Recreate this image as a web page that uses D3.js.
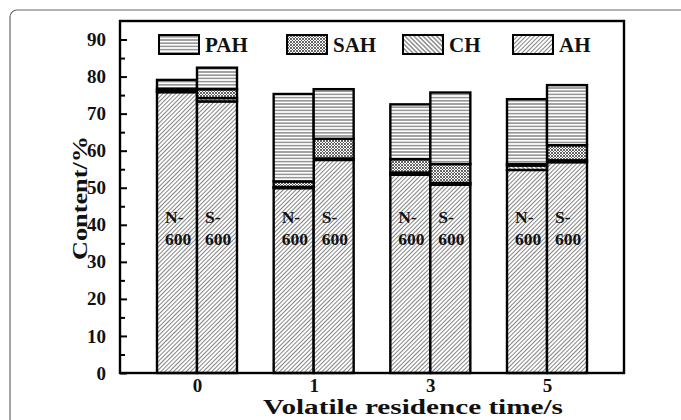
<!DOCTYPE html>
<html>
<head>
<meta charset="utf-8">
<script src="https://cdn.jsdelivr.net/npm/d3@7"></script>
<style>
  html, body { margin: 0; padding: 0; background: #fff; }
  svg { display: block; }
  text { font-family: "Liberation Serif", "Times New Roman", serif; font-weight: bold; fill: #111; }
</style>
</head>
<body>
<svg id="chart" width="681" height="420"></svg>
<script>
// Residence time groups and the two samples per group
const times = ["0", "1", "3", "5"];
const samples = ["N", "S"];
const sampleLabels = { N: "N-", S: "S-" };
const temperature = "600";

// Component contents (%) per bar, ordered time 0,1,3,5 for each sample
const AH_N  = [75.8, 49.9, 53.5, 54.8];
const CH_N  = [0.3, 0.3, 0.6, 1.2];
const SAH_N = [0.6, 1.5, 3.6, 0.4];
const PAH_N = [2.4, 23.6, 14.8, 17.5];

const AH_S  = [73.3, 57.5, 50.8, 56.9];
const CH_S  = [0.9, 0.4, 0.5, 0.5];
const SAH_S = [2.4, 5.3, 5.1, 4.1];
const PAH_S = [5.8, 13.4, 19.3, 16.2];

const components = ["AH", "CH", "SAH", "PAH"];       // stacking order, bottom to top
const legendOrder = ["PAH", "SAH", "CH", "AH"];
const yTicks = [0, 10, 20, 30, 40, 50, 60, 70, 80, 90];
const yMinorTicks = [5, 15, 25, 35, 45, 55, 65, 75, 85];

const seriesBySample = {
  N: { AH: AH_N, CH: CH_N, SAH: SAH_N, PAH: PAH_N },
  S: { AH: AH_S, CH: CH_S, SAH: SAH_S, PAH: PAH_S }
};

const svg = d3.select("#chart");
const plot = { left: 120, right: 624, top: 21, bottom: 373 };
const barW = 40;

// Figure frame with a rounded corner
svg.append("rect")
  .attr("x", 10).attr("y", 10).attr("width", 720).attr("height", 460)
  .attr("rx", 7).attr("fill", "none").attr("stroke", "#666").attr("stroke-width", 1.2);

// Hatch patterns: line hatches are a horizontal rule rotated per component
const defs = svg.append("defs");
function lineHatch(id, spacing, angle, color, width) {
  const p = defs.append("pattern").attr("id", id)
    .attr("patternUnits", "userSpaceOnUse").attr("width", spacing).attr("height", spacing)
    .attr("patternTransform", `rotate(${angle})`);
  p.append("rect").attr("width", spacing).attr("height", spacing).attr("fill", "#fff");
  p.append("line").attr("x1", 0).attr("x2", spacing).attr("y1", spacing / 2).attr("y2", spacing / 2)
    .attr("stroke", color).attr("stroke-width", width);
}
lineHatch("pat-PAH", 3.2, 0, "#555", 1);
lineHatch("pat-CH", 3.2, 45, "#444", 0.9);
lineHatch("pat-AH", 3.0, -45, "#666", 0.8);
{
  const s = 3;
  const p = defs.append("pattern").attr("id", "pat-SAH")
    .attr("patternUnits", "userSpaceOnUse").attr("width", s).attr("height", s);
  p.append("rect").attr("width", s).attr("height", s).attr("fill", "#fff");
  p.append("path").attr("d", `M0,0L${s},${s}M${s},0L0,${s}`)
    .attr("stroke", "#555").attr("stroke-width", 0.9);
}

// Scales
const x = d3.scalePoint().domain(times).range([plot.left, plot.right]).padding(0.66);
const y = d3.scaleLinear().domain([0, 95]).range([plot.bottom, plot.top]);
const offset = { N: -barW, S: 0 };

// Stacked rows per bar
const rows = [];
samples.forEach(s => times.forEach((t, i) => {
  const row = { time: t, sample: s };
  components.forEach(c => row[c] = seriesBySample[s][c][i]);
  rows.push(row);
}));
const stacked = d3.stack().keys(components)(rows);

const gBars = svg.append("g");
stacked.forEach(layer => {
  gBars.selectAll(null).data(layer).enter().append("rect")
    .attr("x", d => x(d.data.time) + offset[d.data.sample])
    .attr("y", d => y(d[1]))
    .attr("width", barW)
    .attr("height", d => y(d[0]) - y(d[1]))
    .attr("fill", `url(#pat-${layer.key})`)
    .attr("stroke", "#000").attr("stroke-width", 2.4);
});

// Sample labels inside bars
rows.forEach(r => {
  const bx = x(r.time) + offset[r.sample] + 8;
  const t = svg.append("text").attr("font-size", 17.5);
  t.append("tspan").attr("x", bx).attr("y", 223).text(sampleLabels[r.sample]);
  t.append("tspan").attr("x", bx).attr("y", 245).text(temperature);
});

// Plot frame
svg.append("rect")
  .attr("x", plot.left).attr("y", plot.top)
  .attr("width", plot.right - plot.left).attr("height", plot.bottom - plot.top)
  .attr("fill", "none").attr("stroke", "#000").attr("stroke-width", 2.4);

// Y axis with inward ticks
const yAxis = d3.axisLeft(y).tickValues(yTicks).tickSize(-7).tickPadding(14).tickFormat(d3.format("d"));
const gy = svg.append("g").attr("transform", `translate(${plot.left},0)`).call(yAxis);
gy.select(".domain").remove();
gy.selectAll(".tick line").attr("stroke", "#000").attr("stroke-width", 2);
gy.selectAll(".tick text").attr("font-size", 19).attr("font-family", "Liberation Serif, serif")
  .attr("font-weight", "bold").attr("fill", "#111");
const yMinor = d3.axisLeft(y).tickValues(yMinorTicks).tickSize(-5).tickFormat("");
const gym = svg.append("g").attr("transform", `translate(${plot.left},0)`).call(yMinor);
gym.select(".domain").remove();
gym.selectAll(".tick line").attr("stroke", "#000").attr("stroke-width", 2);

// X axis labels
const xAxis = d3.axisBottom(x).tickSize(0).tickPadding(6);
const gx = svg.append("g").attr("transform", `translate(0,${plot.bottom})`).call(xAxis);
gx.select(".domain").remove();
gx.selectAll(".tick text").attr("font-size", 19).attr("font-family", "Liberation Serif, serif")
  .attr("font-weight", "bold").attr("fill", "#111");

// Axis titles (set in a wide face)
svg.append("text").attr("x", 413).attr("y", 414)
  .attr("text-anchor", "middle").attr("font-size", 20)
  .attr("textLength", 300).attr("lengthAdjust", "spacingAndGlyphs")
  .text("Volatile residence time/s");
svg.append("text").attr("transform", `translate(87,198) rotate(-90)`)
  .attr("text-anchor", "middle").attr("font-size", 21)
  .attr("textLength", 124).attr("lengthAdjust", "spacingAndGlyphs")
  .text("Content/%");

// Legend
const legendX = { PAH: 159, SAH: 287, CH: 403, AH: 513 };
legendOrder.forEach(k => {
  svg.append("rect").attr("x", legendX[k]).attr("y", 35).attr("width", 40).attr("height", 19)
    .attr("fill", `url(#pat-${k})`).attr("stroke", "#000").attr("stroke-width", 2);
  svg.append("text").attr("x", legendX[k] + 46).attr("y", 52).attr("font-size", 21).text(k);
});
</script>
</body>
</html>
